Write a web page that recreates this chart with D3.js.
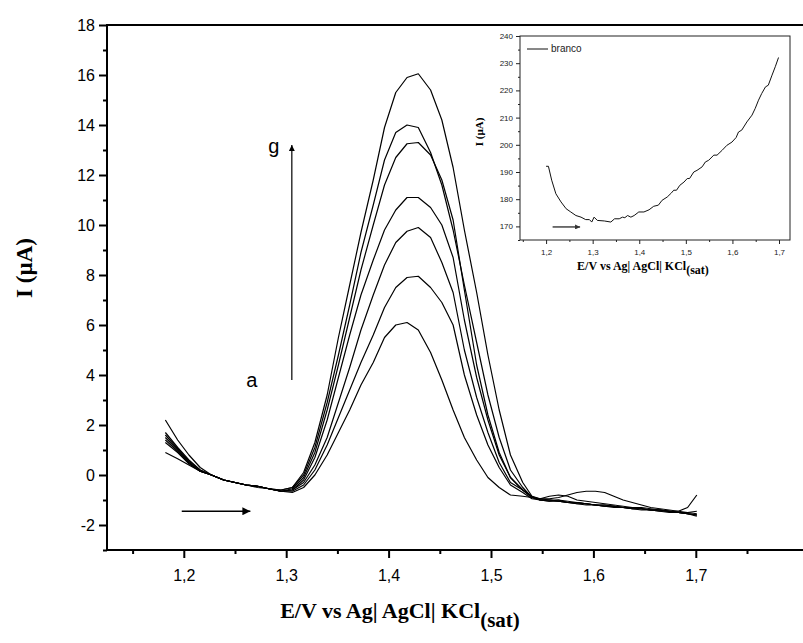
<!DOCTYPE html>
<html>
<head>
<meta charset="utf-8">
<script src="https://cdn.jsdelivr.net/npm/d3@7"></script>
<style>
  body { margin: 0; background: #fff; }
  svg { display: block; }
</style>
</head>
<body>
<div id="chart"></div>
<script>
// Potential (V) for the main voltammograms
const potential = [1.182, 1.194, 1.205, 1.216, 1.227, 1.239, 1.250, 1.261, 1.272, 1.283,
  1.295, 1.306, 1.317, 1.328, 1.340, 1.351, 1.362, 1.373, 1.385, 1.396,
  1.407, 1.418, 1.429, 1.441, 1.452, 1.463, 1.474, 1.486, 1.497, 1.508,
  1.519, 1.531, 1.540, 1.548, 1.557, 1.566, 1.575, 1.584, 1.593, 1.602,
  1.611, 1.620, 1.629, 1.638, 1.647, 1.656, 1.665, 1.674, 1.683, 1.692, 1.701];

// Current (uA), curves a..g
const curveA = [0.9, 0.65, 0.4, 0.15, 0.0, -0.2, -0.3, -0.4, -0.45, -0.55, -0.65,
  -0.7, -0.5, 0.0, 0.8, 1.7, 2.6, 3.6, 4.5, 5.5, 6.0, 6.1, 5.8, 4.9, 3.8, 2.6, 1.5, 0.6, -0.1, -0.5, -0.8, -0.85,
  -0.9, -0.95, -1.0, -1.05, -1.1, -1.1, -1.15, -1.2, -1.25, -1.25, -1.3, -1.35, -1.35, -1.4, -1.4, -1.45, -1.5, -1.55, -1.6];
const curveB = [1.3, 0.9, 0.45, 0.15, 0.0, -0.2, -0.3, -0.4, -0.45, -0.55, -0.65,
  -0.65, -0.4, 0.2, 1.2, 2.3, 3.4, 4.5, 5.6, 6.7, 7.5, 7.9, 7.95, 7.5, 6.9, 6.0, 4.0, 2.4, 1.2, 0.3, -0.4, -0.7,
  -0.95, -1.0, -1.0, -1.0, -1.1, -1.15, -1.15, -1.2, -1.2, -1.25, -1.3, -1.3, -1.35, -1.4, -1.4, -1.45, -1.5, -1.55, -1.65];
const curveC = [1.4, 0.95, 0.5, 0.15, 0.0, -0.2, -0.3, -0.4, -0.45, -0.55, -0.65,
  -0.6, -0.3, 0.4, 1.5, 2.9, 4.3, 5.8, 7.2, 8.4, 9.3, 9.75, 9.9, 9.5, 8.5, 7.3, 5.0, 3.1, 1.7, 0.5, -0.3, -0.6,
  -0.9, -1.0, -1.05, -1.05, -1.1, -1.15, -1.2, -1.2, -1.25, -1.3, -1.3, -1.35, -1.4, -1.4, -1.45, -1.45, -1.5, -1.5, -1.45];
const curveD = [1.5, 1.0, 0.5, 0.15, 0.0, -0.2, -0.3, -0.4, -0.45, -0.55, -0.65,
  -0.6, -0.2, 0.7, 2.2, 3.9, 5.6, 7.2, 8.6, 9.8, 10.6, 11.1, 11.1, 10.7, 10.0, 8.7, 6.2, 3.9, 2.2, 0.8, -0.1, -0.6,
  -0.9, -1.0, -1.0, -1.05, -1.1, -1.1, -1.15, -1.2, -1.25, -1.25, -1.3, -1.35, -1.35, -1.4, -1.45, -1.5, -1.5, -1.55, -1.6];
const curveE = [1.6, 1.05, 0.55, 0.2, 0.0, -0.2, -0.3, -0.4, -0.45, -0.55, -0.65,
  -0.55, -0.1, 0.9, 2.6, 4.4, 6.3, 8.2, 10.0, 11.6, 12.7, 13.25, 13.3, 12.8, 11.8, 10.2, 7.4, 4.4, 2.4, 0.9, -0.1, -0.6,
  -0.85, -1.0, -1.05, -1.0, -1.05, -1.1, -1.15, -1.2, -1.2, -1.25, -1.3, -1.3, -1.35, -1.4, -1.4, -1.45, -1.5, -1.55, -1.6];
const curveF = [1.7, 1.1, 0.6, 0.2, 0.0, -0.2, -0.3, -0.4, -0.5, -0.55, -0.6,
  -0.5, 0.0, 1.1, 2.9, 4.8, 6.8, 8.9, 10.8, 12.6, 13.7, 14.0, 13.9, 12.9, 11.6, 9.8, 7.6, 5.3, 3.2, 1.5, 0.2, -0.5,
  -0.9, -0.95, -0.85, -0.8, -0.85, -1.0, -1.05, -1.1, -1.15, -1.2, -1.25, -1.3, -1.3, -1.35, -1.4, -1.45, -1.45, -1.3, -0.8];
const curveG = [2.2, 1.4, 0.8, 0.3, 0.0, -0.2, -0.3, -0.4, -0.45, -0.55, -0.6,
  -0.5, 0.1, 1.3, 3.2, 5.5, 7.6, 9.7, 11.8, 13.9, 15.3, 15.9, 16.05, 15.4, 14.2, 12.3, 9.8, 7.3, 4.8, 2.6, 0.8, -0.3,
  -0.85, -0.95, -0.95, -0.9, -0.8, -0.7, -0.65, -0.65, -0.7, -0.85, -1.0, -1.1, -1.2, -1.3, -1.35, -1.4, -1.45, -1.5, -1.55];
const seriesList = [curveA, curveB, curveC, curveD, curveE, curveF, curveG];

// Inset: blank (branco)
const brancoE = [1.200, 1.205, 1.212, 1.221, 1.232, 1.243, 1.253, 1.264, 1.275, 1.285,
  1.293, 1.298, 1.303, 1.310, 1.325, 1.339, 1.347, 1.357, 1.364, 1.369,
  1.375, 1.382, 1.389, 1.399, 1.410, 1.421, 1.431, 1.441, 1.449, 1.460,
  1.469, 1.474, 1.480, 1.487, 1.496, 1.503, 1.508, 1.517, 1.524, 1.535,
  1.542, 1.549, 1.560, 1.567, 1.578, 1.588, 1.599, 1.608, 1.613, 1.620,
  1.631, 1.642, 1.649, 1.656, 1.663, 1.671, 1.677, 1.685, 1.692, 1.699];
const brancoI = [192.1, 192.1, 187.0, 182.0, 179.0, 176.5, 175.3, 174.0, 173.4, 172.5,
  172.5, 171.6, 173.4, 172.2, 172.0, 171.6, 172.8, 172.8, 173.4, 173.2,
  174.0, 173.4, 174.0, 175.3, 175.3, 176.1, 177.4, 177.8, 179.6, 180.8,
  182.3, 183.3, 183.3, 185.1, 186.3, 187.6, 187.6, 190.0, 190.6, 191.9,
  193.7, 194.3, 196.2, 196.2, 198.0, 199.8, 201.0, 202.7, 204.7, 205.4,
  208.4, 210.9, 213.4, 216.4, 218.9, 221.3, 221.9, 225.6, 228.7, 232.1];

// Ticks
const yMajor = [-2, 0, 2, 4, 6, 8, 10, 12, 14, 16, 18];
const yMinor = [-3, -1, 1, 3, 5, 7, 9, 11, 13, 15, 17];
const xMajor = [1.2, 1.3, 1.4, 1.5, 1.6, 1.7];
const xMinor = [1.15, 1.25, 1.35, 1.45, 1.55, 1.65, 1.75];
const insetXMinor = [1.15, 1.25, 1.35, 1.45, 1.55, 1.65];
const insetYMajor = [170, 180, 190, 200, 210, 220, 230, 240];
const insetYMinor = [165, 175, 185, 195, 205, 215, 225, 235];

const width = 803, height = 643;
const fmtX = d => d3.format(".1f")(d).replace(".", ",");
const fmtY = d => String(d);
const sans = "Arial, 'Liberation Sans', sans-serif";
const serif = "'Times New Roman', 'Liberation Serif', serif";

const svg = d3.select("#chart").append("svg")
    .attr("width", width)
    .attr("height", height);

// ---- main plot ----
const x = d3.scaleLinear().domain([1.125, 1.825]).range([107, 823.8]);
const y = d3.scaleLinear().domain([-3, 18]).range([550, 25]);

const line = d3.line()
    .x((d, i) => x(potential[i]))
    .y(d => y(d));

svg.append("g")
  .selectAll("path")
  .data(seriesList)
  .join("path")
    .attr("d", line)
    .attr("fill", "none")
    .attr("stroke", "#000")
    .attr("stroke-width", 1.2)
    .attr("stroke-linejoin", "round");

// frame
svg.append("rect")
    .attr("x", x(1.125)).attr("y", y(18))
    .attr("width", x(1.825) - x(1.125)).attr("height", y(-3) - y(18))
    .attr("fill", "none").attr("stroke", "#000").attr("stroke-width", 2);

function styleAxis(g) {
  g.select(".domain").remove();
  g.selectAll("line").attr("stroke", "#000").attr("stroke-width", 2);
  g.selectAll("text")
    .attr("fill", "#000")
    .style("font-family", sans)
    .style("font-size", "16px");
}

svg.append("g")
    .attr("transform", `translate(${x(1.125)},0)`)
    .call(d3.axisLeft(y).tickValues(yMajor).tickSize(8).tickPadding(4).tickFormat(fmtY))
    .call(styleAxis);
svg.append("g")
    .attr("transform", `translate(${x(1.125)},0)`)
    .call(d3.axisLeft(y).tickValues(yMinor).tickSize(4).tickFormat(""))
    .call(styleAxis);

svg.append("g")
    .attr("transform", `translate(0,${y(-3)})`)
    .call(d3.axisBottom(x).tickValues(xMajor).tickSize(8).tickPadding(12).tickFormat(fmtX))
    .call(styleAxis);
svg.append("g")
    .attr("transform", `translate(0,${y(-3)})`)
    .call(d3.axisBottom(x).tickValues(xMinor).tickSize(4).tickFormat(""))
    .call(styleAxis);

// axis titles
svg.append("text")
    .attr("transform", "translate(32,268) rotate(-90)")
    .attr("text-anchor", "middle")
    .style("font-family", serif).style("font-weight", "bold").style("font-size", "23px")
    .text("I (\u00B5A)");

const xt = svg.append("text")
    .attr("x", 400).attr("y", 618)
    .attr("text-anchor", "middle")
    .style("font-family", serif).style("font-weight", "bold").style("font-size", "22px");
xt.append("tspan").text("E/V vs Ag| AgCl| KCl");
xt.append("tspan").attr("dy", 9).style("font-size", "21px").text("(sat)");

// arrow markers
const defs = svg.append("defs");
function marker(id, w, h, fill) {
  defs.append("marker")
      .attr("id", id).attr("viewBox", "0 0 10 10")
      .attr("refX", 10).attr("refY", 5)
      .attr("markerWidth", w).attr("markerHeight", h)
      .attr("markerUnits", "userSpaceOnUse")
      .attr("orient", "auto")
    .append("path").attr("d", "M0,0L10,5L0,10Z").attr("fill", fill);
}
marker("head", 10, 6, "#000");
marker("headBig", 14, 8, "#000");
marker("headGray", 8, 5, "#333");

// scan direction arrow
svg.append("line")
    .attr("x1", x(1.198)).attr("x2", x(1.265))
    .attr("y1", y(-1.45)).attr("y2", y(-1.45))
    .attr("stroke", "#000").attr("stroke-width", 1.5)
    .attr("marker-end", "url(#headBig)");

// a -> g arrow
svg.append("line")
    .attr("x1", x(1.3055)).attr("x2", x(1.3055))
    .attr("y1", y(3.8)).attr("y2", y(13.2))
    .attr("stroke", "#000").attr("stroke-width", 1.2)
    .attr("marker-end", "url(#head)");
svg.append("text")
    .attr("x", x(1.3055) - 18).attr("y", y(13.2) + 8)
    .attr("text-anchor", "middle")
    .style("font-family", sans).style("font-size", "20px")
    .text("g");
svg.append("text")
    .attr("x", x(1.3055) - 40).attr("y", y(3.8) + 7)
    .attr("text-anchor", "middle")
    .style("font-family", sans).style("font-size", "20px")
    .text("a");

// ---- inset ----
const ix = d3.scaleLinear().domain([1.144, 1.7236]).range([520, 790]);
const iy = d3.scaleLinear().domain([165, 240]).range([240, 36]);

const inset = svg.append("g");
inset.append("rect")
    .attr("x", 520).attr("y", 36).attr("width", 270).attr("height", 204)
    .attr("fill", "#fff").attr("stroke", "#222").attr("stroke-width", 1);

function styleInset(g) {
  g.select(".domain").remove();
  g.selectAll("line").attr("stroke", "#222");
  g.selectAll("text")
    .attr("fill", "#222")
    .style("font-family", sans)
    .style("font-size", "8px");
}

inset.append("g")
    .attr("transform", "translate(520,0)")
    .call(d3.axisLeft(iy).tickValues(insetYMajor).tickSize(4).tickPadding(3).tickFormat(d3.format("d")))
    .call(styleInset);
inset.append("g")
    .attr("transform", "translate(520,0)")
    .call(d3.axisLeft(iy).tickValues(insetYMinor).tickSize(2).tickFormat(""))
    .call(styleInset);
inset.append("g")
    .attr("transform", "translate(0,240)")
    .call(d3.axisBottom(ix).tickValues(xMajor).tickSize(4).tickPadding(5).tickFormat(fmtX))
    .call(styleInset);
inset.append("g")
    .attr("transform", "translate(0,240)")
    .call(d3.axisBottom(ix).tickValues(insetXMinor).tickSize(2).tickFormat(""))
    .call(styleInset);

inset.append("path")
    .datum(brancoI)
    .attr("d", d3.line().x((d, i) => ix(brancoE[i])).y(d => iy(d)))
    .attr("fill", "none").attr("stroke", "#111").attr("stroke-width", 1);

inset.append("line")
    .attr("x1", ix(1.214)).attr("x2", ix(1.273))
    .attr("y1", iy(169.8)).attr("y2", iy(169.8))
    .attr("stroke", "#444").attr("stroke-width", 1.5)
    .attr("marker-end", "url(#headGray)");

// legend
inset.append("line")
    .attr("x1", 527).attr("x2", 548).attr("y1", 49).attr("y2", 49)
    .attr("stroke", "#111").attr("stroke-width", 1);
inset.append("text")
    .attr("x", 551).attr("y", 52)
    .style("font-family", sans).style("font-size", "10px")
    .attr("fill", "#222")
    .text("branco");

inset.append("text")
    .attr("transform", "translate(483,132) rotate(-90)")
    .attr("text-anchor", "middle")
    .style("font-family", serif).style("font-weight", "bold").style("font-size", "11px")
    .text("I (\u00B5A)");
const it = inset.append("text")
    .attr("x", 643).attr("y", 270)
    .attr("text-anchor", "middle")
    .style("font-family", serif).style("font-weight", "bold").style("font-size", "12px");
it.append("tspan").text("E/V vs Ag| AgCl| KCl");
it.append("tspan").attr("dy", 4).text("(sat)");
</script>
</body>
</html>
